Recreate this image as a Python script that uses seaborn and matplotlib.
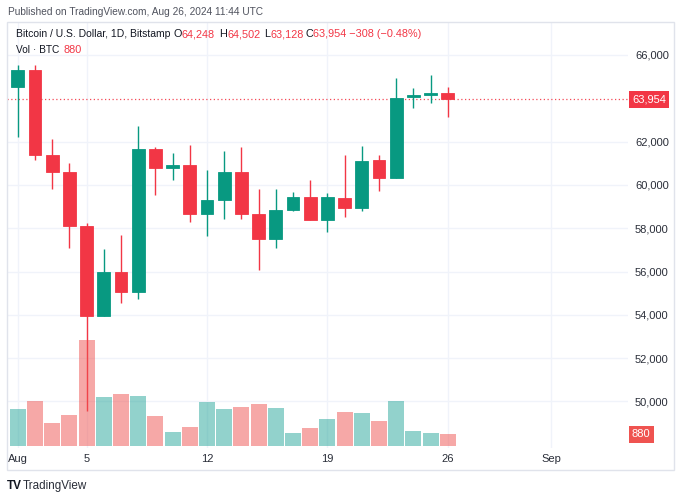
import matplotlib
matplotlib.use("Agg")
import matplotlib.pyplot as plt
import seaborn as sns
import pandas as pd
from matplotlib.patches import Rectangle

# ---- data ----
days = list(range(1, 27))
opens = [64540, 65300, 61380, 60600, 58080, 53950, 55990, 55050, 61650, 60800,
         60910, 58640, 59320, 60580, 58650, 57500, 58830, 59440, 58370, 59410,
         58950, 61130, 60320, 64080, 64140, 64248]
highs = [65540, 65560, 62120, 61020, 58230, 57020, 57690, 62720, 61740, 61460,
         61840, 60690, 61570, 61770, 59800, 59800, 59660, 60230, 59610, 61380,
         61800, 61370, 64940, 64460, 65060, 64502]
lows = [62200, 61140, 59810, 57100, 49560, 53930, 54530, 54720, 59530, 60230,
        58270, 57650, 58440, 58440, 56070, 57070, 58790, 58360, 57810, 58520,
        58790, 59730, 60300, 63570, 63770, 63128]
closes = [65300, 61380, 60600, 58080, 53950, 55990, 55050, 61650, 60800, 60910,
          58640, 59320, 60580, 58640, 57500, 58830, 59440, 58370, 59440, 58950,
          61120, 60320, 64030, 64150, 64230, 63954]
volumes = [2780, 3380, 1760, 2360, 7950, 3690, 3890, 3790, 2230, 1030,
           1450, 3310, 2780, 2930, 3180, 2860, 950, 1380, 2030, 2530,
           2480, 1900, 3380, 1130, 950, 880]
price_ticks = [50000, 52000, 54000, 56000, 58000, 60000, 62000, 66000]
date_ticks = [1, 5, 12, 19, 26, 32]
date_labels = ["Aug", "5", "12", "19", "26", "Sep"]
last_price = 63954
last_volume = 880

UP = "#089981"
DOWN = "#f23645"
VUP = "#26a69a"
VDOWN = "#ef5350"
TXT = "#131722"
GRID = "#f0f3fa"

sns.set_theme(style="white")
plt.rcParams["font.family"] = ["Liberation Sans", "DejaVu Sans"]

W, H = 683, 500
fig = plt.figure(figsize=(W / 100, H / 100), dpi=100)
fig.patch.set_facecolor("white")


def fx(x):
    return x / W


def fy(y):
    return 1 - y / H


# plot area in pixels
L, R, T, B = 7, 628, 22, 448
rect = [fx(L), fy(B), fx(R) - fx(L), fy(T) - fy(B)]
ax = fig.add_axes(rect)
axv = ax.twinx()

# ---- price axes ----
ax.set_ylim(47848, 67524)
ax.set_xlim(0.372, 36.477)
for s in ax.spines.values():
    s.set_visible(False)
for s in axv.spines.values():
    s.set_visible(False)
ax.grid(True, color=GRID, lw=1)
ax.set_axisbelow(True)
ax.yaxis.tick_right()
ax.set_yticks(price_ticks)
ax.set_yticklabels([f"{v:,}" for v in price_ticks])
ax.set_xticks(date_ticks)
ax.set_xticklabels(date_labels)
ax.tick_params(axis="y", length=0, pad=5, labelsize=8, labelcolor="#2a2e39",
               labelright=True, labelleft=False)
ax.tick_params(axis="x", length=0, pad=4, labelsize=8, labelcolor="#2a2e39")

bw = 0.74
for d, o, h, l, c in zip(days, opens, highs, lows, closes):
    col = UP if c >= o else DOWN
    ax.vlines(d, l, h, color=col, lw=1.0, zorder=2)
    lo, hi = min(o, c), max(o, c)
    if hi - lo < 60:
        lo, hi = (lo + hi) / 2 - 30, (lo + hi) / 2 + 30
    ax.bar(d, hi - lo, bottom=lo, width=bw, color=col, edgecolor=col,
           lw=0.6, zorder=3)

ax.axhline(last_price, color=DOWN, lw=0.9, ls=(0, (1, 2)), zorder=1, alpha=0.9)

# ---- volume (seaborn) ----
vdf = pd.DataFrame({
    "day": days,
    "volume": volumes,
    "dir": ["up" if c >= o else "down" for o, c in zip(opens, closes)],
})
sns.barplot(data=vdf, x="day", y="volume", hue="dir",
            palette={"up": VUP, "down": VDOWN}, native_scale=True,
            dodge=False, width=0.94, errorbar=None, legend=False,
            saturation=1, alpha=0.5, linewidth=0, ax=axv)
axv.set_ylim(-150, 31885)
axv.set_xlim(0.372, 36.477)
axv.set_yticks([])
axv.set_ylabel("")
axv.set_xlabel("")
ax.set_xlabel("")
ax.set_ylabel("")
axv.tick_params(axis="x", length=0, labelbottom=False)
axv.tick_params(axis="y", length=0, labelright=False, labelleft=False)
axv.grid(False)
axv.patch.set_alpha(0)

# ---- right-side value tags ----
ax.text(1.0 + 4 / (R - L), last_price, "63,954", transform=ax.get_yaxis_transform(),
        ha="left", va="center", fontsize=8, color="white", zorder=10,
        bbox=dict(boxstyle="square,pad=0.3", fc=DOWN, ec="none"))
axv.text(1.0 + 4 / (R - L), last_volume, "880", transform=axv.get_yaxis_transform(),
         ha="left", va="center", fontsize=8, color="white", zorder=10,
         bbox=dict(boxstyle="square,pad=0.3", fc=VDOWN, ec="none"))

# ---- frame ----
fig.patches.append(Rectangle((fx(7), fy(470)), fx(674) - fx(7), fy(22) - fy(470),
                             transform=fig.transFigure, fill=False,
                             ec="#e0e3eb", lw=1.0, zorder=0))

# ---- header texts ----
fs_name = 7.5
fs_num = 7.8
renderer = fig.canvas.get_renderer()
fig.text(fx(8), fy(12), "Published on TradingView.com, Aug 26, 2024 11:44 UTC",
         fontsize=7.3, color="#50535e", va="center", ha="left")
fig.text(fx(16), fy(34), "Bitcoin / U.S. Dollar, 1D, Bitstamp", fontsize=fs_name,
         color=TXT, va="center", ha="left")
groups = [(173, "O", "64,248"), (219.5, "H", "64,502"),
          (264, "L", "63,128"), (305, "C", "63,954 \u2212308 (\u22120.48%)")]
for x, letter, num in groups:
    t = fig.text(fx(x), fy(34), letter, fontsize=fs_num, color=TXT,
                 va="center", ha="left")
    x1 = t.get_window_extent(renderer).x1
    fig.text((x1 + 0.5) / W, fy(34), num, fontsize=fs_num, color=DOWN,
             va="center", ha="left")
fig.text(fx(16), fy(50), "Vol \u00b7 BTC", fontsize=7.3, color=TXT, va="center", ha="left")
fig.text(fx(63), fy(50), "880", fontsize=fs_num, color=DOWN, va="center", ha="left")

# ---- footer logo ----
fig.text(fx(7), fy(486), "TV", fontsize=8.5, color=TXT, va="center", ha="left",
         fontweight="bold")
fig.text(fx(23), fy(486), "TradingView", fontsize=8.4, color="#2a2e39",
         va="center", ha="left")

fig.savefig("out.png", dpi=100)
